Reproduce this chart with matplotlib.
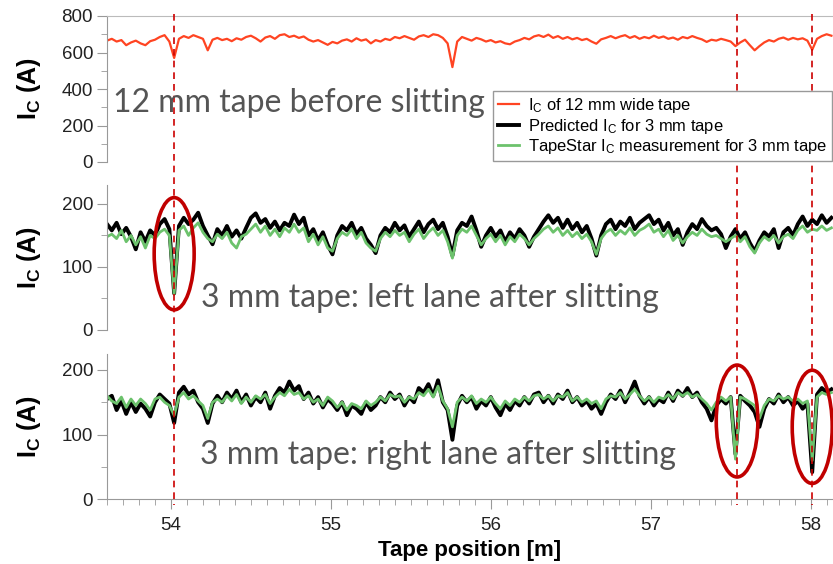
import matplotlib
matplotlib.use("Agg")
import matplotlib.pyplot as plt
import numpy as np
from matplotlib.patches import Ellipse
from matplotlib.lines import Line2D
import matplotlib.transforms as mtransforms
from matplotlib.ticker import MultipleLocator

plt.rcParams['font.family'] = ['Liberation Sans', 'DejaVu Sans']
plt.rcParams['mathtext.default'] = 'regular'

# tape position grid (m), one sample every 3 cm
pos = np.round(53.60 + 0.03 * np.arange(152), 2)

ic_12mm = [665, 675, 660, 668, 640, 655, 665, 650, 640, 662,
           670, 685, 695, 660, 570, 675, 690, 680, 695, 685,
           675, 612, 670, 680, 668, 675, 662, 678, 670, 685,
           692, 678, 660, 682, 690, 675, 695, 700, 685, 692,
           680, 688, 670, 660, 668, 655, 642, 658, 650, 665,
           672, 660, 678, 665, 672, 650, 668, 660, 675, 668,
           685, 678, 690, 680, 670, 688, 695, 685, 700, 695,
           680, 650, 520, 660, 685, 675, 665, 680, 672, 660,
           668, 655, 662, 650, 645, 660, 668, 680, 672, 688,
           695, 685, 698, 680, 690, 675, 685, 672, 680, 668,
           675, 660, 648, 672, 680, 690, 678, 688, 695, 680,
           690, 675, 685, 678, 692, 680, 688, 675, 682, 670,
           685, 678, 690, 680, 672, 658, 670, 665, 675, 668,
           660, 635, 655, 670, 640, 612, 635, 655, 668, 660,
           675, 682, 670, 680, 672, 678, 665, 615, 675, 690,
           700, 692]

left_pred = [168, 158, 170, 152, 162, 148, 128, 155, 140, 158,
             150, 168, 176, 160, 58, 165, 178, 168, 175, 186,
             165, 150, 136, 160, 150, 165, 148, 158, 145, 162,
             178, 185, 170, 176, 162, 172, 158, 170, 165, 183,
             168, 178, 150, 160, 142, 155, 135, 120, 150, 165,
             158, 170, 152, 162, 145, 135, 122, 150, 162, 155,
             170, 158, 166, 148, 160, 172, 155, 168, 175, 160,
             170, 148, 118, 158, 170, 165, 180, 158, 132, 150,
             162, 148, 158, 140, 155, 145, 160, 150, 132, 148,
             160, 172, 182, 170, 178, 162, 175, 160, 170, 155,
             165, 145, 118, 150, 168, 175, 160, 172, 165, 178,
             160, 170, 176, 182, 168, 175, 158, 170, 150, 160,
             135, 155, 168, 160, 176, 165, 158, 162, 152, 130,
             148, 160, 145, 155, 138, 125, 142, 155, 148, 160,
             130, 155, 162, 150, 168, 180, 165, 175, 168, 182,
             170, 178]

left_meas = [148, 152, 145, 158, 140, 150, 135, 148, 130, 150,
             145, 155, 160, 150, 57, 158, 165, 150, 162, 170,
             155, 145, 140, 152, 145, 155, 138, 130, 148, 152,
             160, 168, 155, 165, 150, 160, 148, 162, 155, 168,
             155, 162, 140, 152, 135, 148, 130, 125, 145, 155,
             150, 160, 145, 155, 138, 130, 125, 145, 155, 148,
             158, 150, 155, 140, 152, 160, 145, 155, 162, 150,
             158, 140, 114, 150, 160, 155, 165, 150, 135, 145,
             152, 140, 150, 135, 148, 140, 152, 145, 135, 145,
             152, 160, 165, 155, 162, 150, 158, 148, 155, 145,
             152, 140, 120, 145, 155, 160, 150, 158, 152, 162,
             150, 158, 162, 168, 155, 160, 148, 158, 142, 150,
             138, 148, 155, 150, 160, 152, 148, 150, 145, 140,
             145, 150, 140, 148, 132, 122, 138, 148, 142, 150,
             138, 148, 152, 145, 158, 165, 155, 160, 158, 165,
             158, 162]

right_pred = [155, 160, 138, 152, 132, 150, 135, 148, 140, 128,
              150, 162, 155, 148, 118, 165, 174, 162, 168, 150,
              140, 118, 148, 160, 150, 165, 155, 168, 150, 162,
              145, 158, 150, 165, 140, 160, 172, 165, 182, 168,
              175, 155, 165, 148, 158, 142, 155, 148, 138, 150,
              130, 145, 140, 132, 150, 138, 145, 158, 150, 165,
              155, 162, 145, 158, 150, 172, 165, 178, 160, 184,
              150, 138, 92, 145, 160, 150, 158, 140, 152, 145,
              158, 142, 130, 148, 138, 152, 145, 158, 148, 162,
              165, 150, 160, 148, 162, 155, 168, 150, 158, 145,
              152, 140, 148, 132, 150, 162, 155, 168, 150, 165,
              182, 160, 148, 158, 145, 155, 150, 165, 152, 168,
              160, 172, 158, 165, 150, 140, 122, 145, 155, 148,
              158, 70, 160, 152, 145, 135, 112, 140, 155, 148,
              162, 150, 158, 145, 152, 140, 148, 42, 162, 172,
              165, 170]

right_meas = [160, 152, 148, 158, 142, 155, 145, 155, 148, 138,
              155, 158, 150, 145, 130, 158, 165, 155, 160, 152,
              145, 125, 150, 155, 150, 160, 152, 162, 148, 158,
              150, 160, 155, 162, 148, 158, 165, 160, 170, 162,
              165, 155, 160, 150, 155, 145, 158, 152, 142, 150,
              138, 148, 145, 140, 152, 145, 150, 158, 152, 162,
              158, 160, 150, 158, 155, 165, 160, 170, 158, 175,
              152, 140, 112, 150, 158, 152, 160, 148, 155, 150,
              158, 148, 140, 152, 145, 155, 150, 158, 152, 160,
              162, 155, 160, 152, 160, 158, 165, 152, 158, 150,
              155, 148, 152, 140, 155, 160, 158, 165, 155, 162,
              170, 160, 152, 158, 150, 158, 155, 162, 155, 165,
              160, 165, 158, 162, 155, 148, 138, 150, 158, 152,
              158, 62, 158, 155, 150, 145, 125, 145, 155, 152,
              160, 155, 158, 152, 155, 148, 152, 60, 158, 165,
              162, 165]

defect_pos = [54.02, 57.54, 58.01]
# ellipses: (panel, x, y, width, height)
circles = [(1, 54.02, 121, 0.25, 178), (2, 57.54, 121, 0.26, 173), (2, 58.01, 112, 0.25, 175)]
panel_text = ["12 mm tape before slitting",
              "3 mm tape: left lane after slitting",
              "3 mm tape: right lane after slitting"]

red = '#ff4422'
green = '#6cc26c'
W, H = 833, 564
fig = plt.figure(figsize=(W / 100, H / 100), dpi=100)

def px_axes(top, bottom):
    return fig.add_axes([107 / W, 1 - bottom / H, 1 - 107 / W, (bottom - top) / H])

ax1 = px_axes(16, 162)
ax2 = px_axes(185, 330)
ax3 = px_axes(354, 499.3)
axes = [ax1, ax2, ax3]

l1, = ax1.plot(pos, ic_12mm, color=red, lw=1.6)
l2, = ax2.plot(pos, left_pred, color='black', lw=2.8)
l3, = ax2.plot(pos, left_meas, color=green, lw=2.0)
ax3.plot(pos, right_pred, color='black', lw=2.8)
ax3.plot(pos, right_meas, color=green, lw=2.0)

ax1.set_ylim(0, 800)
ax2.set_ylim(0, 230)
ax3.set_ylim(0, 224.6)
ax1.yaxis.set_major_locator(MultipleLocator(200))
ax1.yaxis.set_minor_locator(MultipleLocator(100))
for ax in (ax2, ax3):
    ax.yaxis.set_major_locator(MultipleLocator(100))
    ax.yaxis.set_minor_locator(MultipleLocator(50))

for i, ax in enumerate(axes):
    ax.set_xlim(53.6, 58.14)
    for s in ['top', 'right', 'bottom']:
        ax.spines[s].set_visible(False)
    ax.spines['left'].set_color('#999999')
    ax.tick_params(axis='y', which='major', length=7, color='#999999', labelsize=13.5,
                   labelcolor='#222222', pad=3)
    ax.tick_params(axis='y', which='minor', length=4, color='#999999')
    ax.set_ylabel('I$_C$ (A)', fontsize=18, fontweight='bold')
    ax.yaxis.set_label_coords(-0.088, 0.5)
    if i < 2:
        ax.tick_params(axis='x', which='both', bottom=False, labelbottom=False)

ax1.spines['top'].set_visible(True)
ax1.spines['top'].set_color('#bbbbbb')

ax3.spines['bottom'].set_visible(True)
ax3.spines['bottom'].set_color('#999999')
ax3.xaxis.set_major_locator(MultipleLocator(1))
ax3.xaxis.set_minor_locator(MultipleLocator(0.1))
ax3.tick_params(axis='x', which='major', length=7, color='#999999', labelsize=13.5,
                labelcolor='#222222', pad=6)
ax3.tick_params(axis='x', which='minor', length=4, color='#999999')
ax3.set_xlabel('Tape position [m]', fontsize=16, fontweight='bold', labelpad=4)

# dashed markers running through all panels
trans = mtransforms.blended_transform_factory(ax3.transData, fig.transFigure)
for xd in defect_pos:
    fig.add_artist(Line2D([xd, xd], [1 - 14 / H, 1 - 505 / H], transform=trans,
                          color='#cc0000', lw=1.2, linestyle=(0, (4, 3))))

for p, cx, cy, w, h in circles:
    axes[p].add_patch(Ellipse((cx, cy), w, h, fill=False, edgecolor='#c00000',
                              lw=2.6, clip_on=False, zorder=5))

txt_kw = dict(fontsize=23, color='#555555', family=['Lato', 'DejaVu Sans'], fontweight='normal',
              va='center', ha='left')
fig.text(113 / W, 1 - 103 / H, panel_text[0], **txt_kw)
fig.text(201 / W, 1 - 298 / H, panel_text[1], **txt_kw)
fig.text(200 / W, 1 - 455 / H, panel_text[2], **txt_kw)

leg = fig.legend([l1, l2, l3],
                 ['I$_C$ of 12 mm wide tape', 'Predicted I$_C$ for 3 mm tape',
                  'TapeStar I$_C$ measurement for 3 mm tape'],
                 loc='upper left', bbox_to_anchor=(493 / W, 1 - 91 / H), fontsize=11.9,
                 frameon=True, fancybox=False, edgecolor='#999999', framealpha=1,
                 handlelength=1.3, handletextpad=0.5, labelspacing=0.1,
                 borderpad=0.3, borderaxespad=0)
leg.get_frame().set_linewidth(1.0)

fig.savefig('out.png', dpi=100)
